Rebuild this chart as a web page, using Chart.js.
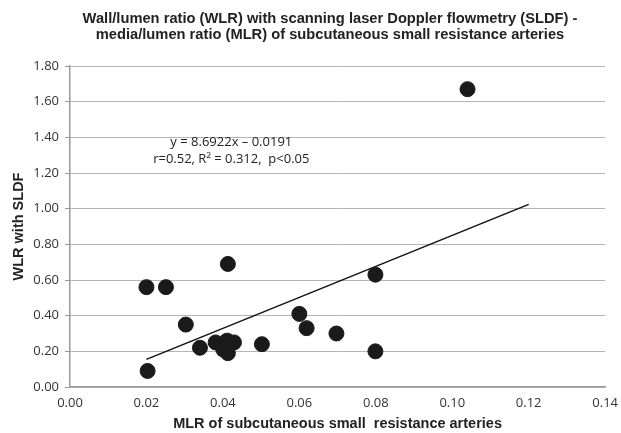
<!DOCTYPE html>
<html>
<head>
<meta charset="utf-8">
<script src="https://cdn.jsdelivr.net/npm/chart.js@4"></script>
<style>
  html, body { margin: 0; padding: 0; background: #fff; }
  #wrap { width: 621px; height: 433px; }
</style>
</head>
<body>
<div id="wrap"><canvas id="wlrChart"></canvas></div>
<script>
// MLR (x) and WLR with SLDF (y)
const mlr = [0.0203, 0.0200, 0.0251, 0.0303, 0.0340, 0.0381, 0.0413, 0.0411, 0.0429, 0.0401, 0.0413, 0.0502, 0.0600, 0.0619, 0.0697, 0.0799, 0.0799, 0.1040];
const wlr = [0.09, 0.56, 0.56, 0.35, 0.22, 0.25, 0.69, 0.26, 0.25, 0.21, 0.19, 0.24, 0.41, 0.33, 0.30, 0.63, 0.20, 1.67];

// linear fit y = slope*x + intercept, drawn between these x values
const slope = 8.6922;
const intercept = -0.0191;
const fitRange = [0.02, 0.12];

const titleLines = [
    'Wall/lumen ratio (WLR) with scanning laser Doppler flowmetry (SLDF) -',
    'media/lumen ratio (MLR) of subcutaneous small resistance arteries'
];
const eqLines = ['y = 8.6922x \u2013 0.0191', 'r=0.52, R\u00b2 = 0.312,  p<0.05'];
const eqAnchor = { x: 0.0422, y: 1.37 };

const scatterPts = mlr.map((x, i) => ({ x: x, y: wlr[i] }));
const fitPts = fitRange.map(x => ({ x: x, y: slope * x + intercept }));

const tickFont = { family: 'Open Sans', size: 13 };
const boldFont = { family: 'Liberation Sans', size: 14.5, weight: 'bold' };

// title is drawn by hand so it can sit a little left of the canvas centre
const headerText = {
    id: 'headerText',
    afterDraw(chart) {
        const ctx = chart.ctx;
        ctx.save();
        ctx.font = 'bold 14.7px "Liberation Sans"';
        ctx.fillStyle = '#222';
        ctx.textAlign = 'center';
        ctx.textBaseline = 'middle';
        titleLines.forEach((t, i) => ctx.fillText(t, 330, 19 + i * 16));
        ctx.restore();
    }
};

const equationText = {
    id: 'equationText',
    afterDatasetsDraw(chart) {
        const ctx = chart.ctx;
        const px = chart.scales.x.getPixelForValue(eqAnchor.x);
        const py = chart.scales.y.getPixelForValue(eqAnchor.y);
        ctx.save();
        ctx.font = '13px "Open Sans"';
        ctx.fillStyle = '#222';
        ctx.textAlign = 'center';
        ctx.textBaseline = 'middle';
        eqLines.forEach((t, i) => ctx.fillText(t, px, py + i * 16.5));
        ctx.restore();
    }
};

new Chart(document.getElementById('wlrChart'), {
    type: 'scatter',
    data: {
        datasets: [
            {
                label: 'WLR',
                data: scatterPts,
                backgroundColor: '#1a1a1a',
                borderColor: '#1a1a1a',
                pointRadius: 7.5,
                pointHoverRadius: 7.5
            },
            {
                type: 'line',
                label: 'Linear fit',
                data: fitPts,
                borderColor: '#111',
                borderWidth: 1.5,
                pointRadius: 0,
                fill: false
            }
        ]
    },
    options: {
        responsive: true,
        maintainAspectRatio: false,
        animation: false,
        layout: { autoPadding: false, padding: { top: 66, right: 12, left: 0, bottom: 0 } },
        plugins: {
            legend: { display: false },
            tooltip: { enabled: false },
            title: { display: false }
        },
        scales: {
            x: {
                type: 'linear',
                min: 0,
                max: 0.14,
                ticks: {
                    stepSize: 0.02,
                    color: '#333',
                    font: tickFont,
                    padding: 3,
                    callback: v => v.toFixed(2)
                },
                grid: { display: false, drawTicks: true, tickLength: 5, tickColor: '#999' },
                border: { color: '#999', width: 1.5 },
                title: {
                    display: true,
                    text: 'MLR of subcutaneous small  resistance arteries',
                    color: '#222',
                    font: boldFont,
                    padding: { top: 2, bottom: 0 }
                }
            },
            y: {
                min: 0,
                max: 1.8,
                afterFit(scale) { scale.width = 70; },
                ticks: {
                    stepSize: 0.2,
                    color: '#333',
                    font: tickFont,
                    padding: 6,
                    callback: v => v.toFixed(2)
                },
                grid: { color: '#b5b5b5', lineWidth: 1, drawTicks: true, tickLength: 5, tickColor: '#999' },
                border: { color: '#999', width: 1.5 },
                title: {
                    display: true,
                    text: 'WLR with SLDF',
                    color: '#222',
                    font: boldFont,
                    padding: { top: 10, bottom: 0 }
                }
            }
        }
    },
    plugins: [equationText, headerText]
});
</script>
</body>
</html>
